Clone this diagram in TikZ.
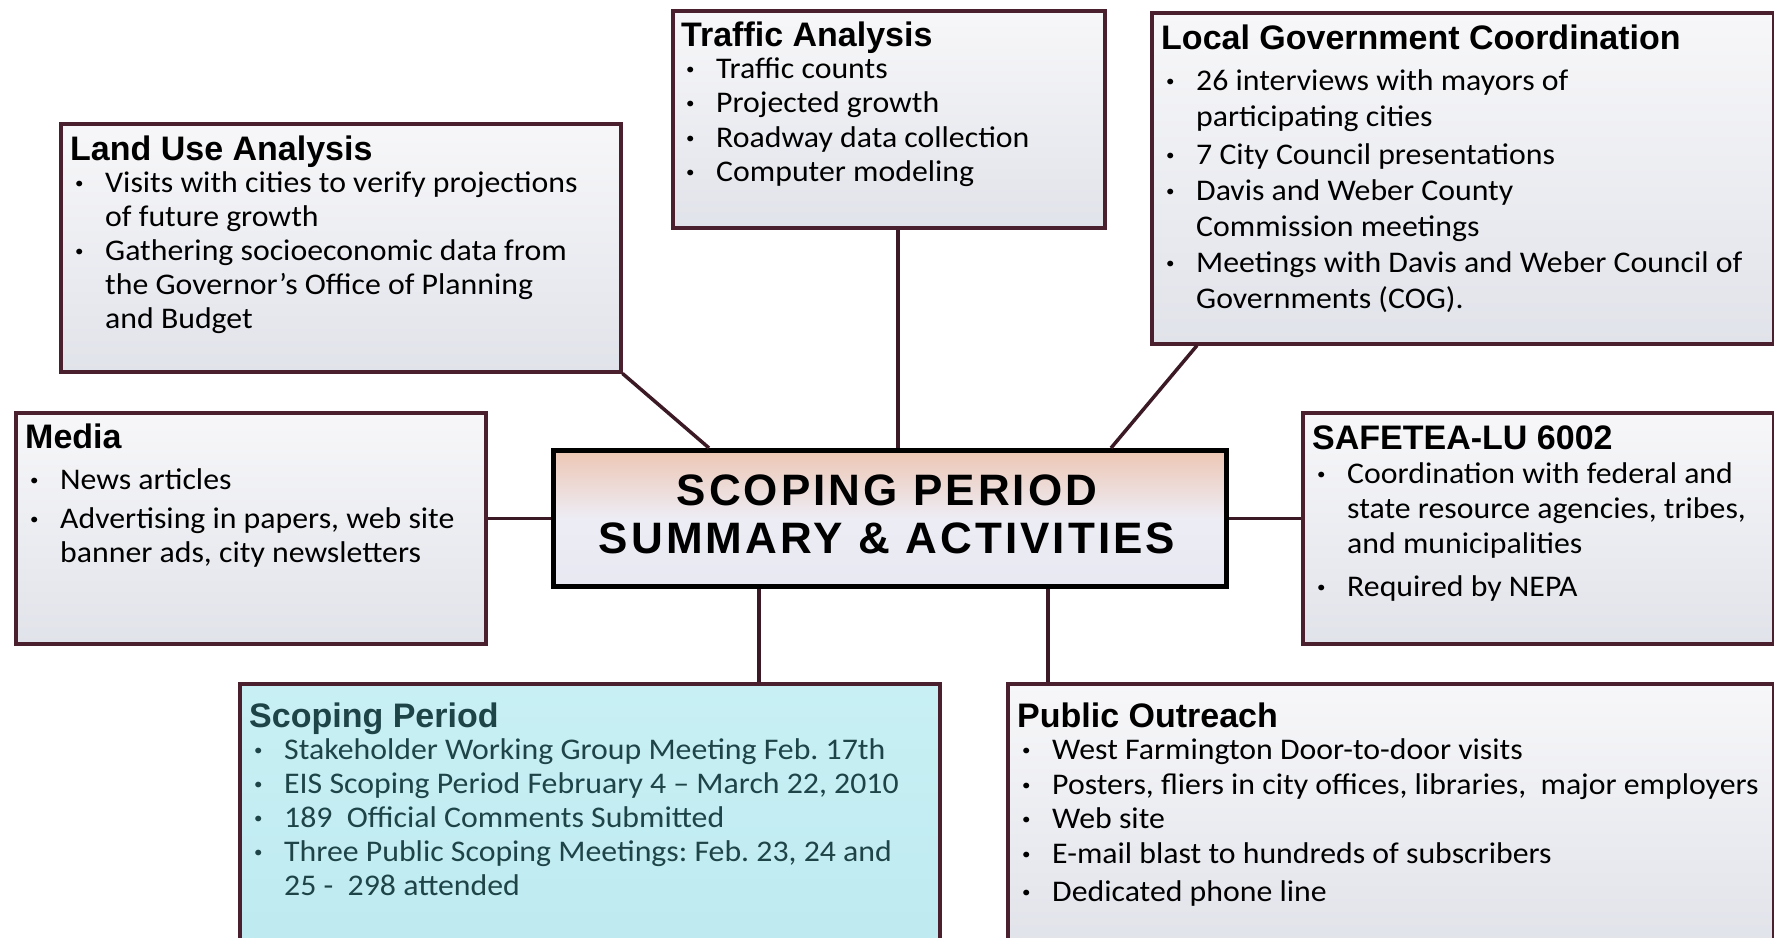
\documentclass[tikz,border=0pt]{standalone}
\usepackage{fontspec}
\setmainfont{Carlito}[FakeStretch=1.06]
\newfontfamily\hdfont{Liberation Sans}
\definecolor{bord}{HTML}{4A1F2E}
\definecolor{boxtop}{HTML}{F7F7F9}
\definecolor{boxbot}{HTML}{E1E3EA}
\definecolor{cyanfill}{HTML}{C8F0F4}
\definecolor{cyanbot}{HTML}{BEEAF0}
\definecolor{tealtext}{HTML}{1E4448}
\definecolor{peach}{HTML}{EDC6B4}
\definecolor{lav}{HTML}{E8E8F2}
\frenchspacing
\newcommand\hd[1]{{\hdfont\bfseries\fontsize{34}{34}\selectfont #1\par}\vspace{-1.5pt}}
\newcommand\bi[1]{\hangindent=35pt\hangafter=1\noindent\makebox[35pt][l]{\hspace{5pt}\raisebox{4pt}{\fontsize{16}{16}\selectfont •}}#1\par}
\newcommand\bodyset[1]{\fontsize{30}{#1}\selectfont\parindent=0pt\lineskiplimit=-50pt\frenchspacing}
\tikzset{
  boxst/.style={draw=bord, line width=3.5pt, top color=boxtop, bottom color=boxbot, inner sep=0, anchor=north west},
  cyanbox/.style={boxst, top color=cyanfill, bottom color=cyanbot},
  centerbox/.style={draw=black, line width=5pt, top color=peach, bottom color=lav, middle color=lav!80!white, inner sep=0, anchor=north west},
  txt/.style={anchor=base west, inner sep=0},
  conn/.style={draw=bord!80!black, line width=3.5pt}
}
\begin{document}
\begin{tikzpicture}[x=1pt,y=-1pt]
\useasboundingbox (0,0) rectangle (1774,937);
% boxes
\node[boxst, minimum width=432pt, minimum height=217pt] (traffic) at (671,9) {};
\node[boxst, minimum width=622pt, minimum height=331pt] (local) at (1150,11) {};
\node[boxst, minimum width=560pt, minimum height=248pt] (land) at (59,122) {};
\node[boxst, minimum width=470pt, minimum height=231pt] (media) at (14,411) {};
\node[boxst, minimum width=471pt, minimum height=231pt] (safe) at (1301,411) {};
\node[cyanbox, minimum width=700pt, minimum height=260pt] (scop) at (238,682) {};
\node[boxst, minimum width=766pt, minimum height=260pt] (pub) at (1006,682) {};
\node[centerbox, minimum width=673pt, minimum height=136pt] (center) at (551,448) {};
% connectors
\draw[conn] ([xshift=9pt]traffic.south) -- ([xshift=9pt]traffic.south |- center.north);
\draw[conn] (land.south east) -- ([xshift=158pt]center.north west);
\draw[conn] ([xshift=47pt]local.south west) -- ([xshift=-118pt]center.north east);
\draw[conn] (media.east |- center.west) -- (center.west);
\draw[conn] (center.east) -- (center.east -| safe.west);
\draw[conn] ([xshift=208pt]center.south west) -- ([xshift=208pt]center.south west |- scop.north);
\draw[conn] ([xshift=-181pt]center.south east) -- ([xshift=-181pt]center.south east |- pub.north);
% center text
\node[inner sep=0, align=center, font={\hdfont\bfseries\fontsize{44}{48}\selectfont\addfontfeatures{LetterSpace=7}}] (ctext) at (887,514) {SCOPING PERIOD\\SUMMARY \& ACTIVITIES};
% texts
\node[txt] (trafficT) at ([shift={(10,37)}]traffic.north west) {\parbox[t]{600pt}{\bodyset{34.5}%
\hd{Traffic Analysis}
\vspace{-1pt}
\bi{Traffic counts}
\bi{Projected growth}
\bi{Roadway data collection}
\bi{Computer modeling}}};
\node[txt] (localT) at ([shift={(11,38)}]local.north west) {\parbox[t]{700pt}{\bodyset{36}%
\hd{Local Government Coordination}
\vspace{7pt}
\bi{26 interviews with mayors of\\participating cities}
\vspace{2pt}
\bi{7 City Council presentations}
\bi{Davis and Weber County\\Commission meetings}
\bi{Meetings with Davis and Weber Council of\\Governments (COG).}}};
\node[txt] (landT) at ([shift={(11,38)}]land.north west) {\parbox[t]{700pt}{\bodyset{34}%
\hd{Land Use Analysis}
\bi{Visits with cities to verify projections\\of future growth}
\bi{Gathering socioeconomic data from\\the Governor’s Office of Planning\\and Budget}}};
\node[txt] (mediaT) at ([shift={(11,37)}]media.north west) {\parbox[t]{700pt}{\bodyset{34}%
\hd{Media}
\vspace{9pt}
\bi{News articles}
\vspace{5pt}
\bi{Advertising in papers, web site\\banner ads, city newsletters}}};
\node[txt] (safeT) at ([shift={(11,38)}]safe.north west) {\parbox[t]{700pt}{\bodyset{35}%
\hd{SAFETEA-LU 6002}
\vspace{1pt}
\bi{Coordination with federal and\\state resource agencies, tribes,\\and municipalities}
\vspace{8pt}
\bi{Required by NEPA}}};
\node[txt, text=tealtext] (scopT) at ([shift={(11,45)}]scop.north west) {\parbox[t]{800pt}{\bodyset{34}%
\hd{Scoping Period}
\bi{Stakeholder Working Group Meeting Feb. 17th}
\bi{EIS Scoping Period February 4 -- March 22, 2010}
\bi{189 \ Official Comments Submitted}
\bi{Three Public Scoping Meetings: Feb. 23, 24 and\\25 - \ 298 attended}}};
\node[txt] (pubT) at ([shift={(11,45)}]pub.north west) {\parbox[t]{800pt}{\bodyset{34}%
\hd{Public Outreach}
\bi{West Farmington Door-to-door visits}
\vspace{1pt}
\bi{Posters, fliers in city offices, libraries, \ major employers}
\bi{Web site}
\vspace{1pt}
\bi{E-mail blast to hundreds of subscribers}
\vspace{4pt}
\bi{Dedicated phone line}}};
\end{tikzpicture}
\end{document}
